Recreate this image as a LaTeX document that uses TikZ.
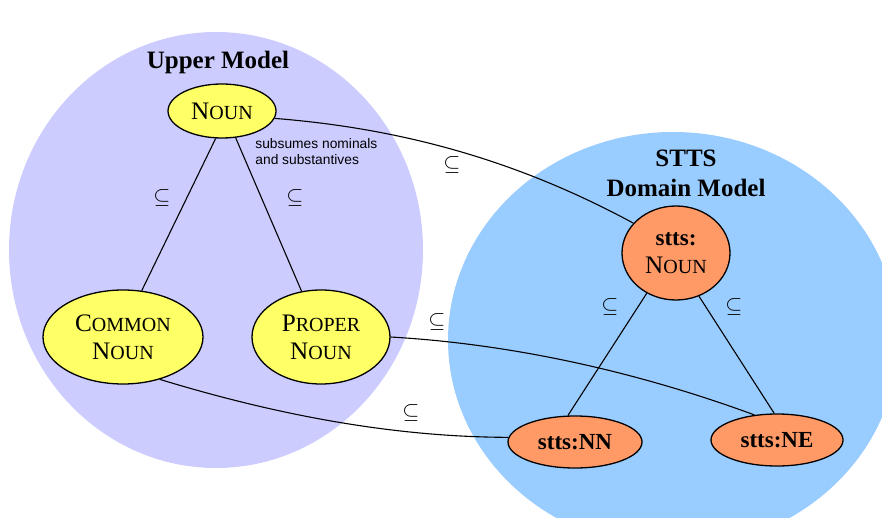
\documentclass[tikz,border=0pt]{standalone}
\usepackage{fontspec}
\setmainfont{Liberation Serif}
\newfontfamily\notefont{Liberation Sans}
\usetikzlibrary{shapes.geometric}
\definecolor{lav}{HTML}{CCCCFF}
\definecolor{sky}{HTML}{99CCFF}
\definecolor{yel}{HTML}{FFFF66}
\definecolor{ora}{HTML}{FF9966}
\newcommand\smc[2]{{\fontsize{12.6}{14}\selectfont #1}{\fontsize{10}{14}\selectfont #2}}
\begin{document}
\begin{tikzpicture}[x=0.5pt,y=-0.5pt,
 region/.style={ellipse, draw=none, inner sep=0pt},
 concept/.style={ellipse, draw=black, line width=0.65pt, inner sep=0pt, align=center, font=\fontsize{11.5}{14}\selectfont},
 upperc/.style={concept, fill=yel},
 domainc/.style={concept, fill=ora},
 link/.style={draw=black, line width=0.55pt},
 subs/.style={font=\fontsize{10.5}{12}\selectfont, inner sep=0pt},
 titlec/.style={font=\bfseries\fontsize{12.5}{15}\selectfont, anchor=base, inner sep=0pt}]
\clip (0,0) rectangle (882,518);
\fill[white] (0,0) rectangle (882,518);
\node[region, fill=lav, minimum width=207pt, minimum height=218pt] (um) at (216,250) {};
\node[region, fill=sky, minimum width=225pt, minimum height=208pt] (dm) at (673,340) {};
\node[titlec] (umt) at (218,69) {Upper Model};
\node[titlec] (dmt1) at (686,167) {STTS};
\node[titlec] (dmt2) at (686,197) {Domain Model};
\node[font=\notefont\fontsize{6.9}{8}\selectfont, anchor=north west, align=left, inner sep=0pt] (note) at (255,138) {subsumes nominals\\and substantives};
\node[upperc, minimum width=54pt, minimum height=27pt] (noun) at (222,111) {\smc{N}{OUN}};
\node[upperc, minimum width=80pt, minimum height=47pt] (common) at (123,337) {\smc{C}{OMMON}\\\smc{N}{OUN}};
\node[upperc, minimum width=69pt, minimum height=47pt] (proper) at (321,337) {\smc{P}{ROPER}\\\smc{N}{OUN}};
\node[domainc, minimum width=54pt, minimum height=47pt] (snoun) at (676,253) {\textbf{stts:}\\\smc{N}{OUN}};
\node[domainc, minimum width=67pt, minimum height=26pt] (nn) at (575,442) {\textbf{stts:NN}};
\node[domainc, minimum width=66pt, minimum height=26pt] (ne) at (777,440) {\textbf{stts:NE}};
\draw[link] (noun.257) -- (common.68);
\draw[link] (noun.297) -- (proper.113);
\draw[link] (snoun.234) -- (nn.105);
\draw[link] (snoun.298) -- (ne.96);
\draw[link] (noun.-8) .. controls (396,128) and (513,158) .. (snoun.145);
\draw[link] (proper.0) .. controls (511,344) and (635,371) .. (ne.132);
\draw[link] (common.-49) .. controls (270,413) and (388,437) .. (nn.176);
\node[subs] (s1) at (162,198) {$\subseteq$};
\node[subs] (s2) at (295,198) {$\subseteq$};
\node[subs] (s3) at (452,165) {$\subseteq$};
\node[subs] (s4) at (437,322) {$\subseteq$};
\node[subs] (s5) at (411,413) {$\subseteq$};
\node[subs] (s6) at (610,307) {$\subseteq$};
\node[subs] (s7) at (734,307) {$\subseteq$};
\end{tikzpicture}
\end{document}
